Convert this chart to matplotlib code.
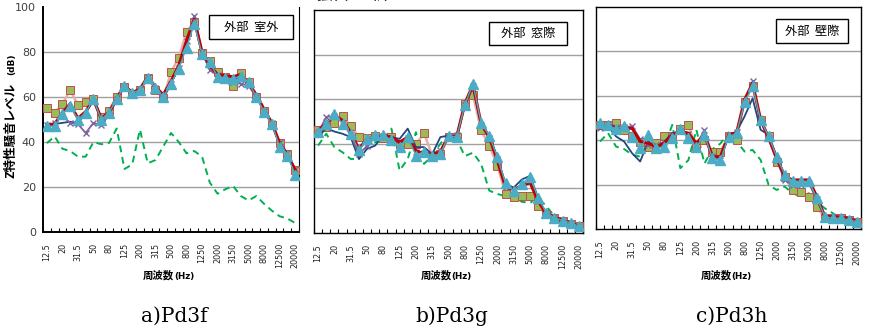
import numpy as np
import matplotlib
matplotlib.use('Agg')
import matplotlib.pyplot as plt
from matplotlib.patches import Rectangle

plt.rcParams['font.family'] = ['Noto Sans CJK JP', 'DejaVu Sans']

W, H = 869, 331

freqs = ['12.5', '16', '20', '25', '31.5', '40', '50', '63', '80', '100', '125', '160',
         '200', '250', '315', '400', '500', '630', '800', '1000', '1250', '1600', '2000',
         '2500', '3150', '4000', '5000', '6300', '8000', '10000', '12500', '16000', '20000']

# a) Pd3f  外部 室外
sq_f = [55, 53, 57, 63, 56.5, 58, 59, 51, 54, 60, 64.5, 61.5, 63, 68.5, 63, 59.5, 71,
        77.5, 89, 93.5, 79.5, 76, 71, 69, 65, 70.5, 66.5, 60, 54, 47.5, 39.5, 34.5, 27.5]
navy_f = [47.5, 48, 48.5, 49, 48.5, 53, 58.5, 50, 52, 59, 65, 62, 63, 69, 64, 59.5, 66,
          73, 84, 94, 79, 73, 70, 69, 68.5, 68, 66, 60, 54, 48, 39, 34.5, 27]
purple_f = [47.5, 48.5, 51.5, 48.5, 48, 44, 48.5, 47.5, 52, 59, 65, 62, 63.5, 69, 64, 59,
            66, 73, 85, 96, 80, 72, 70, 68, 66.5, 66, 65, 60, 54, 48.5, 40, 35, 28]
red_f = [47.5, 48, 53, 57, 50.5, 53.5, 59, 50.5, 53, 59.5, 65, 62, 63.5, 69, 64.5, 61, 67,
         74, 85, 94.5, 80, 74, 70, 69.5, 69, 70, 66, 61, 54.5, 48.5, 39.5, 34.5, 27.5]
tri_f = [47, 47, 52.5, 56, 50, 53, 59, 50, 53, 59, 65, 62, 63, 68.5, 64, 60, 66, 72.5, 82,
         92.5, 79, 75.5, 69, 68.5, 68, 69.5, 66.5, 60, 53.5, 48, 38, 34, 25.5]
dash_f = [39.5, 42.5, 37, 36, 33.5, 33.5, 40, 39, 39.5, 46, 28, 30, 45.5, 30.5, 32, 38, 44,
          40, 35, 36, 33.5, 22, 17, 19, 20.5, 16, 14, 16, 12.5, 9.5, 7, 6, 4]

# b) Pd3g  外部 窓際
sq_g = [46, 47.5, 49.3, 52.3, 48, 43, 42.7, 43.7, 42.7, 43, 40, 40, 39.7, 44.8, 34.7, 35.4,
        43, 43, 58, 62, 46, 39.2, 30.2, 17.6, 16.1, 16.6, 16.6, 12, 8.3, 6.8, 5.3, 4, 3]
navy_g = [43, 47, 45.5, 44.5, 43, 33.2, 37.7, 39.2, 43.7, 43, 42.2, 46.8, 38.5, 38.5, 35.4,
          43, 43.7, 43, 57, 65.6, 49, 43.7, 34, 22, 20.4, 24, 25.6, 15.8, 8.3, 6, 5.3, 4, 3]
purple_g = [45, 52, 52.5, 49.5, 44, 35.4, 39, 43, 43.5, 42.5, 40, 42.5, 36.5, 36, 35, 37,
            43.5, 44, 57.5, 66, 48.5, 42.5, 33, 20.5, 19.5, 21.5, 23, 14.5, 8.5, 7, 5.5, 4.5, 3]
red_g = [46, 49, 52.8, 50.5, 45.2, 37.7, 42.2, 43, 43.7, 43, 40.7, 43, 37, 35.4, 35.4, 36.2,
         43.7, 43, 58, 66.4, 49, 43, 32.4, 20.4, 19.6, 21.1, 22.6, 14.3, 8.6, 7.1, 5.6, 4.5, 3]
tri_g = [45.5, 49, 53.5, 49, 44.5, 37, 42, 44, 44, 41.5, 38.5, 43, 34.7, 36.5, 34.5, 35.5,
         43.5, 43, 57.3, 67, 49.3, 43.7, 34, 22.2, 19, 22, 25.2, 15.8, 9, 6.8, 5.6, 4.5, 3]
dash_g = [39.2, 44.5, 38.5, 36.2, 33.2, 33.2, 39.2, 40.7, 41.5, 46.8, 28, 33.2, 45.2, 31,
          34.7, 40, 44.5, 42, 34.5, 36, 31, 19, 17.5, 16.5, 16.5, 14, 13.5, 15.8, 12, 7.5,
          5.5, 4.5, 2.5]

# c) Pd3h  外部 壁際
sq_h = [47, 47, 47.7, 44.7, 41.7, 39.4, 37.1, 38.6, 41.7, 41.7, 45, 47, 36.4, 40.2, 34.9,
        34.9, 41.7, 40.2, 57.4, 64.2, 49.2, 41.7, 30.4, 23.6, 17.6, 16.8, 14.6, 10, 4.8, 4.8,
        4.8, 4, 3.3]
navy_h = [46.2, 46.2, 41.7, 39.4, 34.1, 30.4, 39.4, 37.1, 39.4, 43.2, 43.9, 42.4, 38.6, 42.4,
          33.4, 31.1, 42.4, 43.9, 50.7, 58.9, 44.7, 42.4, 32.6, 24.4, 21.4, 21.4, 21.4, 13.1,
          5.6, 5, 4.8, 4, 3.3]
purple_h = [45.5, 47.5, 46, 46, 46.2, 40.5, 38, 38, 39, 42.5, 44, 43, 38, 44.5, 33, 31, 42,
            43.5, 57.5, 66.5, 48.5, 41, 31, 22, 20, 20, 20.5, 13.5, 5.5, 5.3, 5, 4.5, 3.3]
red_h = [45.4, 47, 45.4, 45.4, 45.4, 39.4, 38.6, 37.1, 38.6, 42.4, 43.9, 43.2, 38.6, 42.4,
         32.6, 32.6, 42.4, 43.2, 58.2, 65.7, 49.2, 40.9, 31.9, 23.6, 22.1, 22.1, 22.1, 14.6,
         5.6, 5.6, 5.3, 4.8, 3.3]
tri_h = [47.6, 46.8, 45, 46.4, 41.5, 36.3, 42.3, 36.3, 37, 40.8, 44.9, 40.8, 37, 42.3, 31.8,
         31, 41.5, 43.1, 57, 64.5, 48.9, 41.7, 32.6, 24.4, 21.4, 21.4, 21.4, 13.8, 5.6, 4.8,
         4.8, 4, 3.3]
dash_h = [39.4, 43.2, 37.1, 36, 33.5, 32.6, 39.4, 37.5, 37.1, 46.9, 27.4, 31, 44.7, 29.5,
          36, 38.5, 43.5, 39.5, 34.9, 35.6, 31.1, 19.8, 17.6, 19.1, 16.1, 14.6, 16.1, 12.3,
          9.3, 7.1, 4.8, 4, 3.3]

places = ['外部  室外', '外部  窓際', '外部  壁際']
captions = ['a)Pd3f', 'b)Pd3g', 'c)Pd3h']

panels = [
    (sq_f, navy_f, purple_f, red_f, tri_f, dash_f),
    (sq_g, navy_g, purple_g, red_g, tri_g, dash_g),
    (sq_h, navy_h, purple_h, red_h, tri_h, dash_h),
]

# pixel boxes: left, top, right, bottom
ax_px = [(43, 7, 299, 232), (314, 10, 583, 233), (596, 7, 861, 229)]
box_px = [(209, 15, 293, 39), (489, 22, 567, 45), (776, 19, 848, 43)]


def fx(x):
    return x / W


def fy(y):
    return 1 - y / H


fig = plt.figure(figsize=(W / 100, H / 100), dpi=100)

x = np.arange(len(freqs))

for k in range(3):
    l, t, r, b = ax_px[k]
    ax = fig.add_axes([fx(l), fy(b), (r - l) / W, (b - t) / H])
    sq, navy, purple, red, tri, dash = panels[k]

    ax.plot(x, dash, color='#00B050', lw=1.4, dashes=(3.5, 2.5), zorder=2)
    ax.plot(x, sq, color='#E6B0AA', lw=1.8, marker='s', ms=5.8, mfc='#9BBB59',
            mec='#C0504D', mew=0.7, zorder=3)
    ax.plot(x, navy, color='#1F497D', lw=1.3, zorder=4)
    ax.plot(x, purple, color='#8064A2', lw=1.3, marker='x', ms=4.5, mew=1.0, zorder=5)
    ax.plot(x, red, color='#C00000', lw=2.2, zorder=6)
    ax.plot(x, tri, color='#4BACC6', lw=1.0, marker='^', ms=7.2, mfc='#4BACC6',
            mec='#4BACC6', zorder=7)

    ax.set_xlim(-0.5, len(freqs) - 0.5)
    ax.set_ylim(0, 100)
    for g in [20, 40, 60, 80]:
        ax.axhline(g, color='#A0A0A0', lw=1.0, zorder=1)

    ax.set_xticks(x[::2])
    ax.set_xticklabels(freqs[::2], rotation=90, fontsize=5.8, family='DejaVu Sans',
                       color='#222222', va='top')
    ax.tick_params(axis='x', which='major', length=0, pad=8)
    ax.set_xticks(np.arange(-0.5, len(freqs), 1), minor=True)
    ax.tick_params(axis='x', which='minor', direction='in', length=3, width=0.8,
                   color='black')

    if k == 0:
        ax.set_yticks([0, 20, 40, 60, 80, 100])
        ax.set_yticklabels(['0', '20', '40', '60', '80', '100'], fontsize=8,
                           family='DejaVu Sans', color='#404040')
        ax.tick_params(axis='y', length=0, pad=5)
        ax.spines['top'].set_visible(False)
        for s in ['left', 'bottom']:
            ax.spines[s].set_linewidth(1.4)
        ax.spines['right'].set_linewidth(0.8)
    else:
        ax.set_yticks([])
        for s in ax.spines.values():
            s.set_linewidth(1.0)

    # legend-like label box
    bl, bt, br, bb = box_px[k]
    fig.add_artist(Rectangle((fx(bl), fy(bb)), (br - bl) / W, (bb - bt) / H,
                             transform=fig.transFigure, facecolor='white',
                             edgecolor='black', lw=1.0, zorder=10))
    fig.text(fx((bl + br) / 2), fy((bt + bb) / 2), places[k], fontsize=8.8,
             ha='center', va='center', zorder=11)

    # x axis title
    cx = (l + r) / 2
    fig.text(fx(cx + 3), fy(275), '周波数', fontsize=7.5, fontweight='bold',
             ha='right', va='center')
    fig.text(fx(cx + 3), fy(276), '(Hz)', fontsize=6.3, fontweight='bold',
             family='DejaVu Sans', ha='left', va='center')

    # caption
    fig.text(fx(cx + 3), fy(322), captions[k], fontsize=14.5, family='DejaVu Serif',
             ha='center', va='baseline')

# y axis title
fig.text(fx(11), fy(130), 'Z特性騒音レベル', fontsize=9, fontweight='bold',
         rotation=90, ha='center', va='center')
fig.text(fx(12), fy(64), '(dB)', fontsize=6.5, fontweight='bold',
         family='DejaVu Sans', rotation=90, ha='center', va='center')

# clipped heading above the chart
fig.text(fx(312), fy(4), '騒音分析', fontsize=14, color='#333333',
         ha='left', va='bottom')

fig.savefig('out.png', dpi=100)
